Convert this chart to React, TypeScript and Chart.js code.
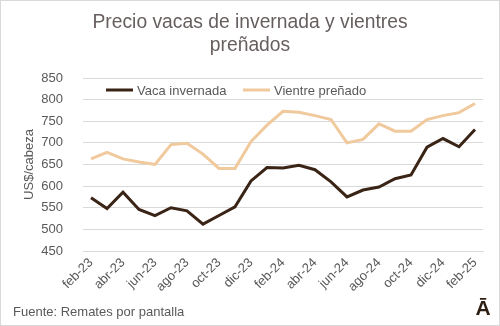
import React, { useEffect, useRef } from "react";
import { Chart, registerables } from "chart.js";

Chart.register(...registerables);

const months: string[] = [
  "feb-23", "mar-23", "abr-23", "may-23", "jun-23", "jul-23", "ago-23", "sep-23", "oct-23", "nov-23", "dic-23",
  "ene-24", "feb-24", "mar-24", "abr-24", "may-24", "jun-24", "jul-24", "ago-24", "sep-24", "oct-24", "nov-24", "dic-24",
  "ene-25", "feb-25",
];

const vacaInvernada: number[] = [
  573, 548, 586, 546, 532, 550, 543, 512, 532, 552, 612, 643, 642, 648, 638, 610, 575, 591, 598, 617, 626, 690, 710, 691, 731,
];

const vientrePrenado: number[] = [
  663, 678, 663, 656, 650, 696, 699, 674, 641, 641, 703, 741, 773, 771, 763, 754, 700, 708, 744, 727, 727, 754, 763, 770, 791,
];

const seriesNames: string[] = ["Vaca invernada", "Vientre preñado"];
const titleLines: string[] = ["Precio vacas de invernada y vientres", "preñados"];
const yTitle = "US$/cabeza";
const sourceText = "Fuente: Remates por pantalla";
const logoText = "Ā";

const DARK = "#3a2416";
const LIGHT = "#f0c99c";
const TEXT = "#595959";
const FONT = "'Liberation Sans', Arial, sans-serif";

const overlayPlugin = {
  id: "overlay",
  afterDraw(chart: any) {
    const ctx = chart.ctx;
    const W = chart.width;
    ctx.save();
    // title
    ctx.fillStyle = "#675e5e";
    ctx.font = `19.3px ${FONT}`;
    ctx.textAlign = "center";
    ctx.textBaseline = "middle";
    ctx.fillText(titleLines[0], W / 2, 22);
    ctx.fillText(titleLines[1], W / 2, 45);

    // legend
    const ly = chart.chartArea.top + 12;
    const items = [
      { x: 105, color: DARK, text: seriesNames[0] },
      { x: 242, color: LIGHT, text: seriesNames[1] },
    ];
    ctx.font = `13px ${FONT}`;
    ctx.textAlign = "left";
    for (const it of items) {
      ctx.strokeStyle = it.color;
      ctx.lineWidth = 3;
      ctx.beginPath();
      ctx.moveTo(it.x, ly);
      ctx.lineTo(it.x + 27, ly);
      ctx.stroke();
      ctx.fillStyle = TEXT;
      ctx.fillText(it.text, it.x + 31, ly + 1);
    }

    // source
    ctx.fillStyle = TEXT;
    ctx.font = `13px ${FONT}`;
    ctx.textAlign = "left";
    ctx.fillText(sourceText, 12, 311);

    // logo
    ctx.fillStyle = "#2e1f14";
    ctx.font = `bold 21px ${FONT}`;
    ctx.textAlign = "center";
    ctx.fillText(logoText, 482, 308);
    ctx.restore();
  },
};

export default function App() {
  const ref = useRef<HTMLCanvasElement | null>(null);

  useEffect(() => {
    document.body.style.margin = "0";
    if (!ref.current) return;
    const chart = new Chart(ref.current, {
      type: "line",
      data: {
        labels: months,
        datasets: [
          {
            label: seriesNames[0],
            data: vacaInvernada,
            borderColor: DARK,
            backgroundColor: DARK,
            borderWidth: 3,
            pointRadius: 0,
            tension: 0,
          },
          {
            label: seriesNames[1],
            data: vientrePrenado,
            borderColor: LIGHT,
            backgroundColor: LIGHT,
            borderWidth: 3,
            pointRadius: 0,
            tension: 0,
          },
        ],
      },
      options: {
        responsive: true,
        maintainAspectRatio: false,
        animation: false,
        layout: { padding: { top: 77, left: 21, right: 16, bottom: 34 } },
        plugins: {
          legend: { display: false },
          title: { display: false },
          tooltip: { enabled: false },
        },
        scales: {
          x: {
            offset: true,
            grid: { display: false, drawTicks: false },
            border: { display: true, color: "#d9d9d9" },
            afterFit: (s: any) => {
              s.height = 40;
            },
            ticks: {
              autoSkip: false,
              maxRotation: 45,
              minRotation: 45,
              padding: 4,
              color: TEXT,
              font: { family: FONT, size: 13 },
              callback: (_v: any, i: number) => (i % 2 === 0 ? months[i] : ""),
            },
          },
          y: {
            min: 450,
            max: 850,
            afterFit: (s: any) => {
              s.width = 61;
            },
            grid: { color: "#d9d9d9", drawTicks: false, lineWidth: 1 },
            border: { display: false },
            ticks: {
              stepSize: 50,
              padding: 20,
              color: TEXT,
              font: { family: FONT, size: 13 },
            },
            title: {
              display: true,
              text: yTitle,
              color: TEXT,
              font: { family: FONT, size: 13 },
              padding: 0,
            },
          },
        },
      },
      plugins: [overlayPlugin],
    });
    return () => chart.destroy();
  }, []);

  return (
    <div
      style={{
        width: 500,
        height: 326,
        boxSizing: "border-box",
        border: "1px solid #d9d9d9",
        position: "relative",
        background: "#fff",
      }}
    >
      <canvas ref={ref} />
    </div>
  );
}
